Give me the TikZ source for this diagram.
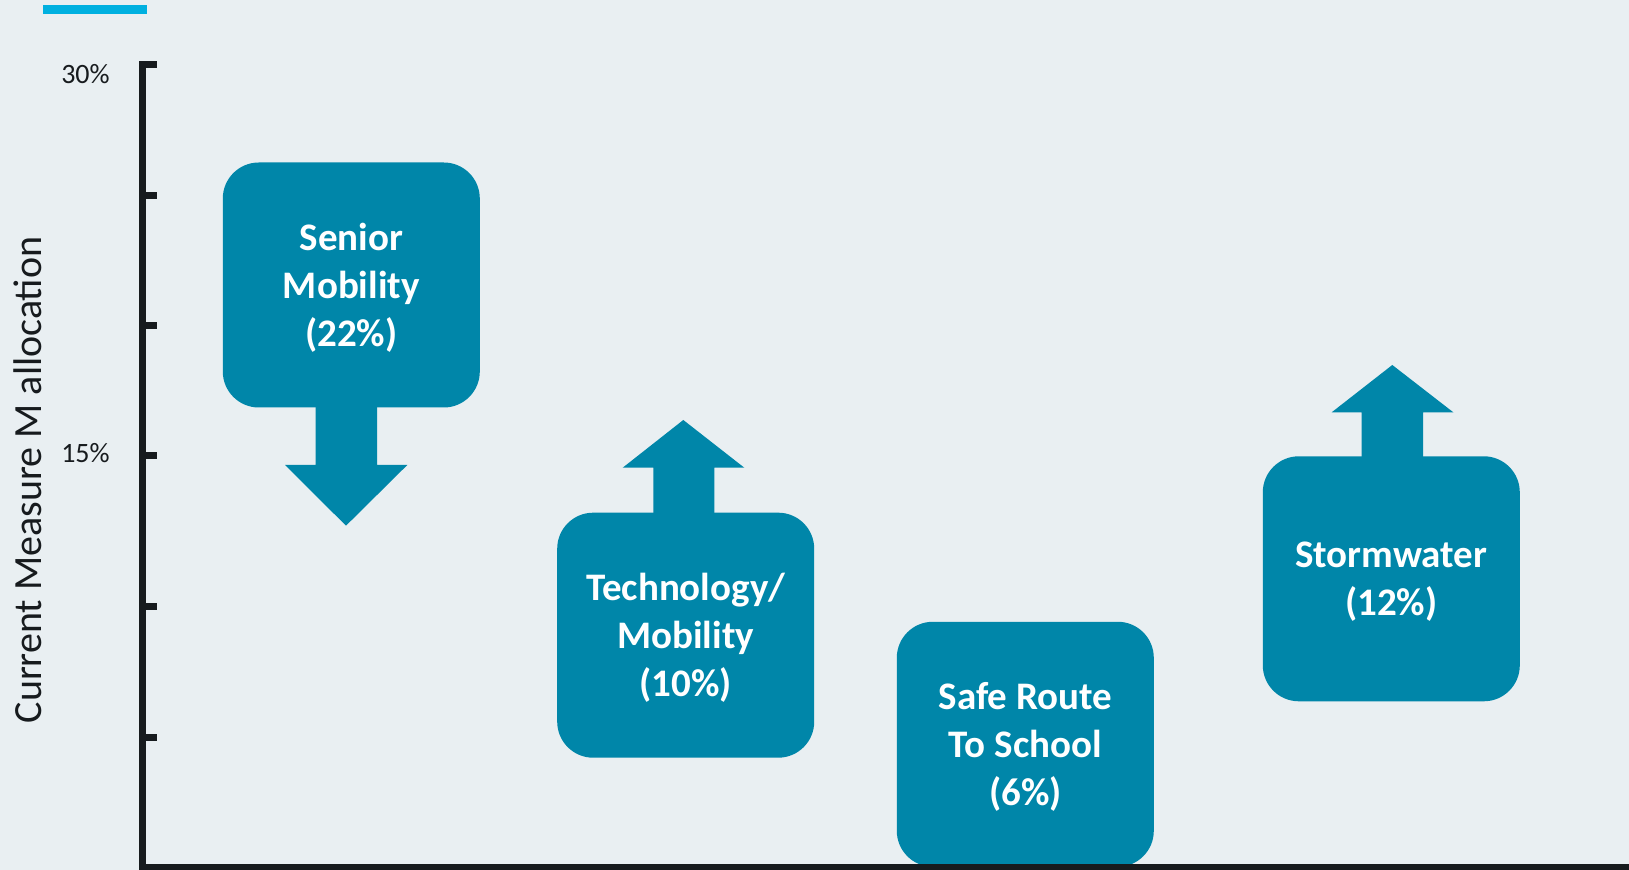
\documentclass[tikz,border=0pt]{standalone}
\usepackage{fontspec}
\setmainfont{Carlito}
\definecolor{bg}{HTML}{E9EFF2}
\definecolor{tealc}{HTML}{0086A9}
\definecolor{axisc}{HTML}{171B1E}
\definecolor{accent}{HTML}{00B0E0}
\begin{document}
\begin{tikzpicture}[x=0.5pt,y=-0.5pt,
  box/.style={fill=tealc, rounded corners=18pt, minimum width=128.5pt, minimum height=122.5pt,
    text=white, font=\bfseries\fontsize{19.5}{24}\selectfont, align=center, inner sep=0pt, text depth=0pt},
  arrowshape/.style={fill=tealc},
  axisbar/.style={fill=axisc},
  ticklabel/.style={font=\fontsize{14}{16}\selectfont, text=axisc, inner sep=0pt},
  axislabel/.style={font=\fontsize{20}{24}\selectfont, text=axisc, inner sep=0pt}]
\useasboundingbox (0,0) rectangle (1629,870);
\fill[bg] (0,0) rectangle (1629,870);
% accent line
\fill[accent] (43,5) rectangle (147,14);
% arrows
\fill[arrowshape] (315.7,400) -- (377,400) -- (377,465) -- (407.3,465) -- (346,525.7) -- (285,465) -- (315.7,465) -- cycle;
\fill[arrowshape] (653.3,520) -- (653.3,467.7) -- (622.7,467.7) -- (683.3,420) -- (744.3,467.7) -- (714.3,467.7) -- (714.3,520) -- cycle;
\fill[arrowshape] (1361.7,465) -- (1361.7,412.3) -- (1331.7,412.3) -- (1392.3,365) -- (1453.3,412.3) -- (1423,412.3) -- (1423,465) -- cycle;
% boxes
\node[box] (senior) at (351.3,285) {Senior\\Mobility\\(22\%)};
\node[box] (tech) at (685.7,635.2) {Technology/\\Mobility\\(10\%)};
\node[box] (safe) at (1025.3,744.3) {Safe Route\\To School\\(6\%)};
\node[box] (storm) at (1391.3,578.8) {Stormwater\\(12\%)};
% axes
\fill[axisbar] (139,61) rectangle (146,870);
\fill[axisbar] (139,864) rectangle (1629,870);
\foreach \ty in {64.5,195.3,325.3,456,606.3,737.3}
  \fill[axisbar] (146,\ty-3.5) rectangle (157,\ty+3.5);
% labels
\node[ticklabel] (l30) at (85.5,74) {30\%};
\node[ticklabel] (l15) at (85.5,453.5) {15\%};
\node[axislabel, rotate=90, anchor=base] (ylab) at (41,480) {Current Measure M allocation};
\end{tikzpicture}
\end{document}
